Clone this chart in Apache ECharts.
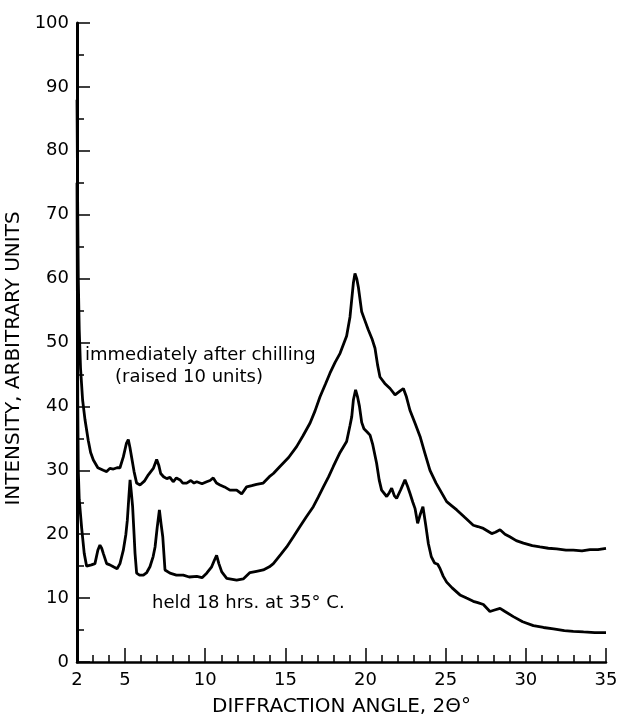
<!DOCTYPE html>
<html>
<head>
<meta charset="utf-8">
<script src="https://cdn.jsdelivr.net/npm/echarts@6/dist/echarts.min.js"></script>
<style>
  html, body { margin: 0; padding: 0; background: #fff; }
  #main { width: 622px; height: 724px; }
</style>
</head>
<body>
<div id="main"></div>
<script>
  // x ticks / labels
  const xLabels = [2, 5, 10, 15, 20, 25, 30, 35]
  const xMajorTicks = [5, 10, 15, 20, 25, 30, 35]
  const xMinorTicks = [3, 4, 6, 7, 8, 9, 11, 12, 13, 14, 16, 17, 18, 19, 21, 22, 23, 24, 26, 27, 28, 29, 31, 32, 33, 34]

  // immediately after chilling (raised 10 units)
  const chilledAngle = [2.00, 2.04, 2.08, 2.14, 2.22, 2.35, 2.50, 2.70, 2.85, 3.02, 3.30, 3.64, 3.85, 4.05, 4.27, 4.50, 4.68, 4.89, 5.08, 5.20,
    5.30, 5.41, 5.56, 5.72, 5.93, 6.20, 6.45, 6.76, 6.97, 7.10, 7.22, 7.40, 7.60, 7.80, 8.00, 8.20, 8.43, 8.60, 8.84, 9.10,
    9.30, 9.47, 9.80, 10.09, 10.30, 10.50, 10.70, 10.92, 11.20, 11.54, 11.96, 12.27, 12.58, 12.90, 13.20, 13.62, 14.00, 14.25, 14.66, 15.20,
    15.70, 16.10, 16.54, 16.85, 17.16, 17.50, 17.78, 18.10, 18.41, 18.82, 19.03, 19.24, 19.34, 19.45, 19.55, 19.76, 19.95, 20.17, 20.40, 20.59,
    20.75, 20.90, 21.20, 21.53, 21.84, 22.10, 22.36, 22.55, 22.77, 23.10, 23.40, 23.70, 24.02, 24.40, 24.65, 25.06, 25.40, 25.69, 26.20, 26.72,
    27.00, 27.35, 27.87, 28.10, 28.39, 28.70, 29.00, 29.40, 29.85, 30.40, 30.88, 31.40, 31.92, 32.50, 32.96, 33.50, 34.00, 34.50, 35.00]
  const chilledIntensity = [88, 72, 60, 52, 46, 41, 37.9, 34.7, 32.8, 31.6, 30.4, 30.0, 29.8, 30.3, 30.2, 30.4, 30.4, 32.1, 34.2, 34.8,
    33.6, 32.0, 29.8, 28.0, 27.7, 28.3, 29.3, 30.3, 31.7, 30.8, 29.5, 29.0, 28.7, 28.9, 28.2, 28.8, 28.5, 28.0, 28.0, 28.4,
    28.0, 28.2, 27.9, 28.2, 28.4, 28.8, 28.0, 27.7, 27.4, 26.9, 26.9, 26.3, 27.4, 27.6, 27.8, 28.0, 29.0, 29.5, 30.6, 32.0,
    33.7, 35.4, 37.4, 39.3, 41.5, 43.5, 45.2, 46.9, 48.3, 51.0, 54.0, 59.3, 60.8, 60.0, 58.7, 54.8, 53.5, 52.0, 50.6, 49.1,
    46.5, 44.6, 43.6, 42.8, 41.8, 42.3, 42.8, 41.5, 39.4, 37.3, 35.3, 32.7, 30.0, 28.0, 26.9, 25.1, 24.4, 23.8, 22.6, 21.4,
    21.2, 20.9, 20.1, 20.3, 20.7, 20.0, 19.6, 19.0, 18.6, 18.2, 18.0, 17.8, 17.7, 17.5, 17.5, 17.4, 17.6, 17.6, 17.8]

  // held 18 hrs. at 35 C
  const heldAngle = [2.00, 2.02, 2.05, 2.08, 2.14, 2.29, 2.45, 2.60, 2.70, 2.90, 3.12, 3.30, 3.43, 3.54, 3.64, 3.85, 4.05, 4.27, 4.50, 4.68,
    4.89, 5.05, 5.14, 5.24, 5.31, 5.39, 5.47, 5.56, 5.62, 5.72, 5.90, 6.14, 6.35, 6.55, 6.75, 6.87, 7.00, 7.14, 7.25, 7.35,
    7.49, 7.80, 8.20, 8.63, 9.00, 9.47, 9.80, 10.09, 10.40, 10.55, 10.71, 10.85, 11.03, 11.34, 11.96, 12.37, 12.79, 13.20, 13.62, 14.00,
    14.25, 14.70, 15.08, 15.50, 15.91, 16.30, 16.74, 17.05, 17.37, 17.70, 17.99, 18.41, 18.82, 19.03, 19.14, 19.24, 19.38, 19.50, 19.62, 19.76,
    19.90, 20.10, 20.28, 20.45, 20.69, 20.85, 21.00, 21.32, 21.48, 21.63, 21.80, 21.94, 22.20, 22.46, 22.62, 22.77, 22.95, 23.09, 23.25, 23.40,
    23.58, 23.75, 23.92, 24.10, 24.30, 24.50, 24.65, 24.85, 25.06, 25.40, 25.89, 26.30, 26.72, 27.00, 27.35, 27.76, 28.00, 28.39, 28.70, 29.22,
    29.80, 30.47, 31.10, 31.72, 32.40, 32.96, 33.60, 34.30, 35.00]
  const heldIntensity = [75, 60, 40, 30, 25.4, 21.0, 17.0, 15.0, 14.9, 15.2, 15.4, 17.5, 18.3, 17.8, 17.0, 15.4, 15.2, 14.9, 14.6, 15.4,
    17.5, 20.0, 22.2, 26.0, 28.5, 26.5, 24.3, 20.0, 17.0, 13.9, 13.6, 13.6, 14.0, 14.9, 16.5, 18.0, 21.0, 23.8, 21.5, 19.6,
    14.4, 13.9, 13.6, 13.6, 13.3, 13.4, 13.2, 13.9, 14.9, 15.8, 16.7, 15.4, 14.1, 13.1, 12.8, 13.0, 14.0, 14.2, 14.4, 14.9,
    15.4, 16.8, 18.0, 19.6, 21.2, 22.7, 24.3, 25.8, 27.4, 29.0, 30.6, 32.8, 34.5, 37.0, 38.4, 41.0, 42.6, 41.5, 40.0, 37.5,
    36.5, 36.0, 35.5, 34.0, 31.1, 28.5, 26.9, 25.9, 26.5, 27.2, 26.0, 25.6, 27.0, 28.5, 27.5, 26.4, 25.0, 24.0, 21.7, 23.0,
    24.3, 21.5, 18.5, 16.5, 15.5, 15.3, 14.6, 13.4, 12.5, 11.6, 10.5, 10.0, 9.5, 9.3, 9.0, 7.9, 8.1, 8.4, 7.9, 7.1,
    6.3, 5.7, 5.4, 5.2, 4.9, 4.8, 4.7, 4.6, 4.6]

  const zip = (xs, ys) => xs.map((x, i) => [x, ys[i]])
  const font = 'DejaVu Sans'

  let myChart = echarts.init(document.getElementById('main'))
  let option = {
    animation: false,
    backgroundColor: '#fff',
    grid: {
      left: 77,
      right: 16,
      top: 23,
      bottom: 62,
      containLabel: false,
      outerBoundsMode: 'none'
    },
    xAxis: [{
      type: 'value',
      min: 2,
      max: 35,
      interval: 1,
      name: 'DIFFRACTION ANGLE, 2Θ°',
      nameLocation: 'middle',
      nameGap: 35,
      nameTextStyle: { fontFamily: font, fontSize: 20, color: '#000' },
      axisLine: { show: true, lineStyle: { color: '#000', width: 2.5 } },
      axisTick: { show: true, inside: true, length: 14, customValues: xMajorTicks, lineStyle: { color: '#000', width: 1.5 } },
      axisLabel: { customValues: xLabels, fontFamily: font, fontSize: 18, color: '#000', margin: 9 },
      splitLine: { show: false }
    }, {
      // short ticks at every degree
      type: 'value',
      min: 2,
      max: 35,
      interval: 1,
      position: 'bottom',
      axisLine: { show: false },
      axisTick: { show: true, inside: true, length: 7, customValues: xMinorTicks, lineStyle: { color: '#000', width: 1.5 } },
      axisLabel: { show: false },
      splitLine: { show: false }
    }],
    yAxis: {
      type: 'value',
      min: 0,
      max: 100,
      interval: 10,
      name: 'INTENSITY, ARBITRARY UNITS',
      nameLocation: 'middle',
      nameGap: 48,
      nameRotate: 90,
      nameTextStyle: { fontFamily: font, fontSize: 20, color: '#000', padding: [0, 32, 0, 0] },
      axisLine: { show: true, lineStyle: { color: '#000', width: 3 } },
      axisTick: { show: true, inside: true, length: 13, lineStyle: { color: '#000', width: 1.5 } },
      minorTick: { show: true, splitNumber: 2, length: 7, lineStyle: { color: '#000', width: 1.5 } },
      axisLabel: { fontFamily: font, fontSize: 18, color: '#000', margin: 8 },
      splitLine: { show: false }
    },
    series: [{
      name: 'immediately after chilling',
      type: 'line',
      showSymbol: false,
      lineStyle: { color: '#000', width: 2.8 },
      data: zip(chilledAngle, chilledIntensity)
    }, {
      name: 'held 18 hrs. at 35° C.',
      type: 'line',
      showSymbol: false,
      lineStyle: { color: '#000', width: 2.8 },
      data: zip(heldAngle, heldIntensity)
    }],
    graphic: [
      { type: 'text', x: 85, y: 355, style: { text: 'immediately after chilling', font: '18px "DejaVu Sans"', fill: '#000', textAlign: 'left', textVerticalAlign: 'middle' } },
      { type: 'text', x: 115, y: 377, style: { text: '(raised 10 units)', font: '18px "DejaVu Sans"', fill: '#000', textAlign: 'left', textVerticalAlign: 'middle' } },
      { type: 'text', x: 152, y: 603, style: { text: 'held 18 hrs. at 35° C.', font: '18px "DejaVu Sans"', fill: '#000', textAlign: 'left', textVerticalAlign: 'middle' } }
    ]
  }
  myChart.setOption(option)
</script>
</body>
</html>
